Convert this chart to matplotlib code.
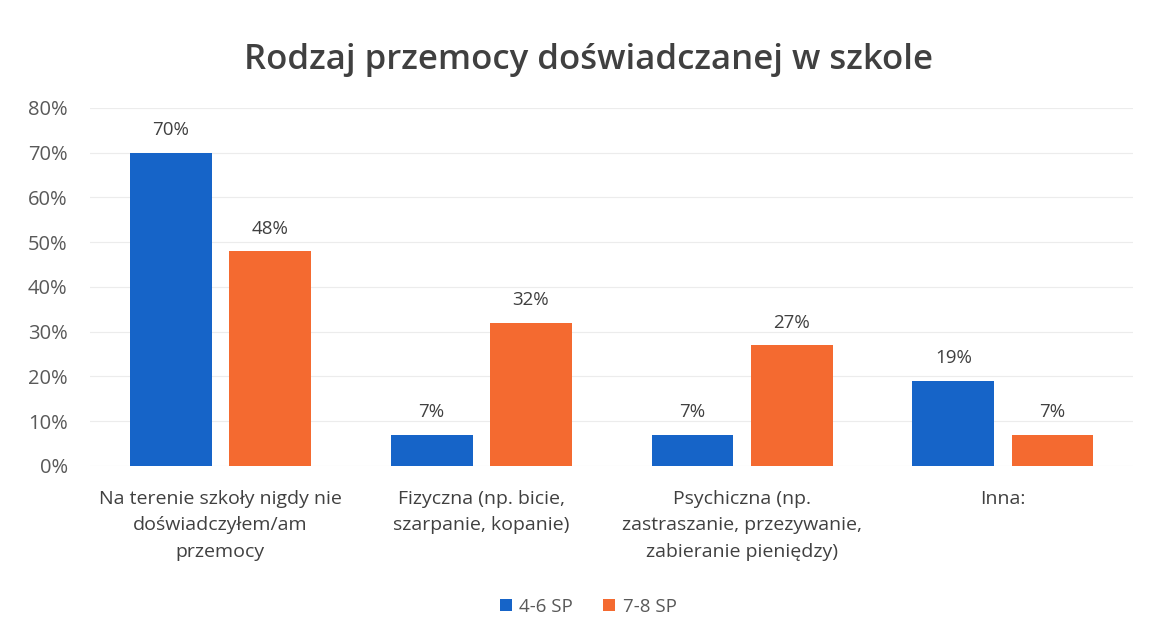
import numpy as np
import matplotlib
matplotlib.use("Agg")
import matplotlib.pyplot as plt

plt.rcParams['font.family'] = ['Open Sans', 'DejaVu Sans']

categories = [
    "Na terenie szkoły nigdy nie\ndoświadczyłem/am\nprzemocy",
    "Fizyczna (np. bicie,\nszarpanie, kopanie)",
    "Psychiczna (np.\nzastraszanie, przezywanie,\nzabieranie pieniędzy)",
    "Inna:",
]
grade_4_6 = [70, 7, 7, 19]
grade_7_8 = [48, 32, 27, 7]
series_names = ["4-6 SP", "7-8 SP"]
yticks = [0, 10, 20, 30, 40, 50, 60, 70, 80]

blue = "#1664c8"
orange = "#f46a30"
text_col = "#595959"

fig = plt.figure(figsize=(11.53, 6.34), dpi=100)
ax = fig.add_axes([0.078, 0.265, 0.905, 0.565])

x = np.arange(len(categories))
w = 0.314
off = 0.19
b1 = ax.bar(x - off, grade_4_6, w, color=blue, label=series_names[0], zorder=3)
b2 = ax.bar(x + off, grade_7_8, w, color=orange, label=series_names[1], zorder=3)

for bars, vals in ((b1, grade_4_6), (b2, grade_7_8)):
    for r, v in zip(bars, vals):
        ax.text(r.get_x() + r.get_width() / 2, v + 3.0, f"{v}%",
                ha="center", va="bottom", fontsize=13.5, color="#404040")

ax.set_xlim(-0.5, len(categories) - 0.5)
ax.set_ylim(0, 80)
ax.set_yticks(yticks)
ax.set_yticklabels([f"{t}%" for t in yticks], fontsize=14.5, color=text_col)
ax.set_xticks(x)
ax.set_xticklabels(categories, fontsize=14, color="#404040", linespacing=1.62)
ax.tick_params(axis="x", length=0, pad=17)
ax.tick_params(axis="y", length=0, pad=16)
ax.grid(axis="y", color="#ececec", linewidth=0.8, zorder=0)
for s in ax.spines.values():
    s.set_visible(False)

fig.text(0.51, 0.905, "Rodzaj przemocy doświadczanej w szkole", ha="center",
         va="center", fontsize=25, fontweight="semibold", color="#404040")

leg = fig.legend(handles=[b1, b2], labels=series_names, loc="center",
                 bbox_to_anchor=(0.51, 0.043), ncol=2, frameon=False,
                 fontsize=13.5, handlelength=0.65, handleheight=0.65,
                 handletextpad=0.4, columnspacing=1.6)
for t in leg.get_texts():
    t.set_color(text_col)

fig.savefig("out.png", dpi=100)
